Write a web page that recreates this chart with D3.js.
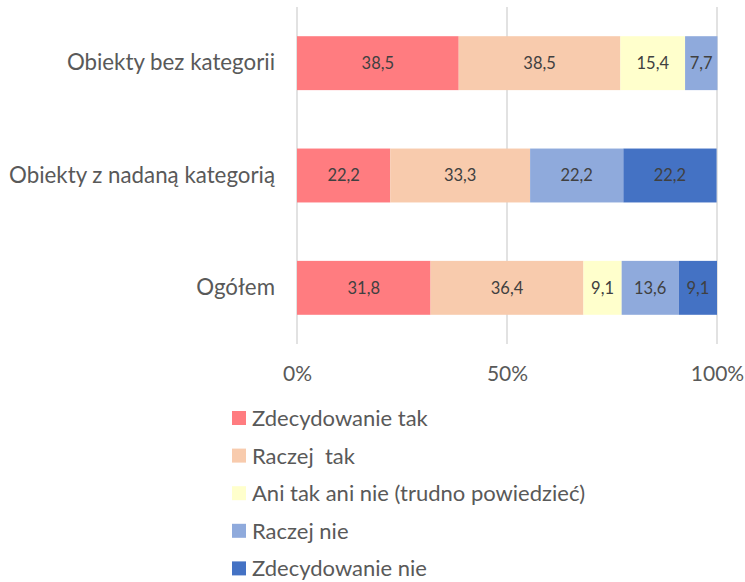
<!DOCTYPE html>
<html><head><meta charset="utf-8">
<script src="https://cdn.jsdelivr.net/npm/d3@7"></script>
<style>body{margin:0;background:#fff;}text{font-family:Lato,sans-serif;}</style>
</head><body><svg id="c" width="745" height="582"></svg>
<script>
const categories = ["Obiekty bez kategorii", "Obiekty z nadaną kategorią", "Ogółem"];
const seriesNames = ["Zdecydowanie tak", "Raczej  tak", "Ani tak ani nie (trudno powiedzieć)", "Raczej nie", "Zdecydowanie nie"];
const zdecydowanieTak = [38.5, 22.2, 31.8];
const raczejTak = [38.5, 33.3, 36.4];
const aniTakAniNie = [15.4, 0, 9.1];
const raczejNie = [7.7, 22.2, 13.6];
const zdecydowanieNie = [0, 22.2, 9.1];
const tickValues = [0, 50, 100];
const tickLabels = ["0%", "50%", "100%"];
const colors = ["#FF7C80", "#F8CBAD", "#FFFFCC", "#8FAADC", "#4472C4"];

const seriesValues = [zdecydowanieTak, raczejTak, aniTakAniNie, raczejNie, zdecydowanieNie];
const rows = categories.map((c, i) => {
  const r = {cat: c};
  seriesNames.forEach((s, j) => r[s] = seriesValues[j][i]);
  return r;
});
const stacked = d3.stack().keys(seriesNames)(rows);

const svg = d3.select("#c");
const x = d3.scaleLinear().domain([0, 100]).range([297, 717]);
const y = d3.scaleBand().domain(categories).range([7, 344]).paddingInner(0.52).paddingOuter(0.26);

// gridlines
svg.append("g").selectAll("line").data(tickValues).join("line")
  .attr("x1", d => x(d)).attr("x2", d => x(d))
  .attr("y1", 7).attr("y2", 344)
  .attr("stroke", "#D9D9D9").attr("stroke-width", 1.5);

// bars
const g = svg.append("g");
stacked.forEach((s, j) => {
  g.append("g").selectAll("rect").data(s.filter(d => d[1] - d[0] > 0)).join("rect")
    .attr("x", d => x(d[0]))
    .attr("width", d => x(d[1]) - x(d[0]))
    .attr("y", d => y(d.data.cat))
    .attr("height", y.bandwidth())
    .attr("fill", colors[j]);
  g.append("g").selectAll("text").data(s.filter(d => d[1] - d[0] > 0)).join("text")
    .attr("x", d => (x(d[0]) + x(d[1])) / 2)
    .attr("y", d => y(d.data.cat) + y.bandwidth() / 2)
    .attr("dy", "0.36em")
    .attr("text-anchor", "middle")
    .attr("font-size", 16.5)
    .attr("fill", "#404040")
    .text(d => d3.format(".1f")(d[1] - d[0]).replace(".", ","));
});

// category labels
const yAxis = svg.append("g").attr("transform", "translate(297,0)")
  .call(d3.axisLeft(y).tickSize(0).tickPadding(22));
yAxis.select(".domain").remove();
yAxis.selectAll("text").attr("font-size", 22.3).attr("fill", "#595959").attr("font-family", "Lato, sans-serif");

// x axis
const xAxis = svg.append("g").attr("transform", "translate(0,344)")
  .call(d3.axisBottom(x).tickValues(tickValues).tickFormat((d, i) => tickLabels[i]).tickSize(0).tickPadding(22));
xAxis.select(".domain").remove();
xAxis.selectAll("text").attr("font-size", 21).attr("fill", "#595959").attr("font-family", "Lato, sans-serif");

// legend
const leg = svg.append("g");
seriesNames.forEach((s, j) => {
  const yy = 418 + j * 37.6;
  leg.append("rect").attr("x", 232).attr("y", yy - 7).attr("width", 14).attr("height", 14).attr("fill", colors[j]);
  leg.append("text").attr("x", 252).attr("y", yy).attr("dy", "0.36em")
    .attr("font-size", 22).attr("fill", "#595959").text(s).style("white-space", "pre");
});
</script></body></html>
